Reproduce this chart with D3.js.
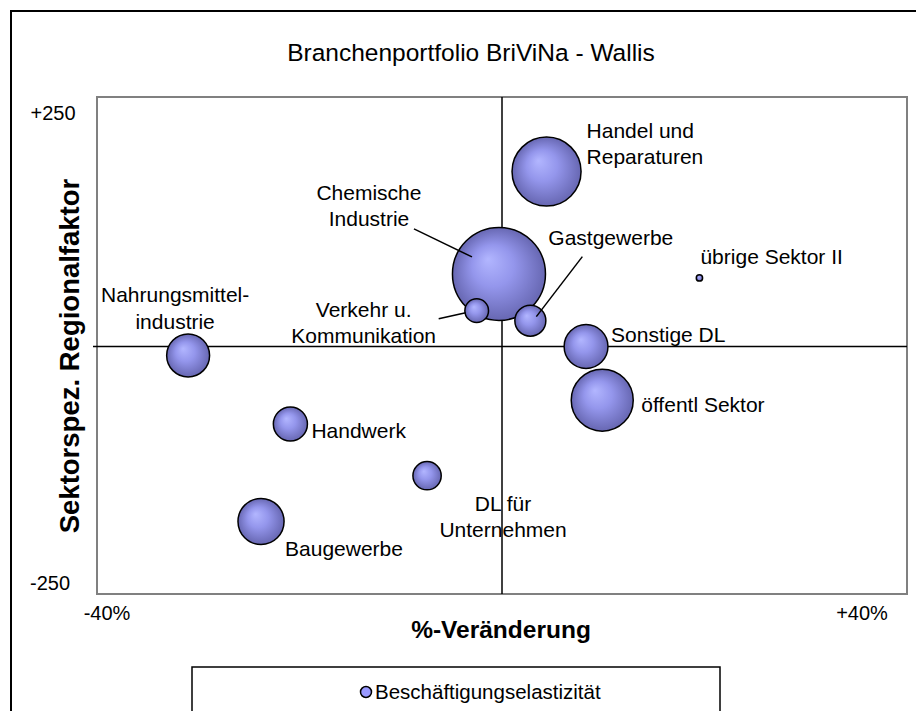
<!DOCTYPE html>
<html>
<head>
<meta charset="utf-8">
<script src="https://cdn.jsdelivr.net/npm/d3@7"></script>
<style>
  body { margin: 0; background: #fff; }
  text { font-family: "Liberation Sans", Arial, sans-serif; fill: #000; }
</style>
</head>
<body>
<div id="chart"></div>
<script>
// Chart data
var sectors = ["Handel und Reparaturen", "Chemische Industrie", "Verkehr u. Kommunikation", "Gastgewerbe",
               "übrige Sektor II", "Sonstige DL", "öffentl Sektor", "Nahrungsmittel-industrie",
               "Handwerk", "DL für Unternehmen", "Baugewerbe"];
var pctChange = [4.4, -0.3, -2.5, 2.8, 19.5, 8.3, 9.9, -31.0, -20.9, -7.4, -23.8];
var regionalFactor = [175, 72, 35, 25, 68, -1, -55, -10, -79, -131, -177];
var elasticity = [1.19, 2.16, 0.14, 0.24, 0.01, 0.48, 0.96, 0.46, 0.29, 0.20, 0.53];
var xTickLabels = ["-40%", "+40%"];
var yTickLabels = ["+250", "-250"];
var seriesName = "Beschäftigungselastizität";

var svgWidth = 916;
var svgHeight = 711;
var plot = { left: 97, top: 97, right: 907, bottom: 594 };

var svg = d3.select("#chart")
            .append("svg")
            .attr("width", svgWidth)
            .attr("height", svgHeight);

var defs = svg.append("defs");
var grad = defs.append("radialGradient")
               .attr("id", "bubbleFill")
               .attr("cx", "50%").attr("cy", "50%").attr("r", "50%")
               .attr("fx", "38%").attr("fy", "34%");
grad.append("stop").attr("offset", "0%").attr("stop-color", "#b2b6ff");
grad.append("stop").attr("offset", "45%").attr("stop-color", "#9496ec");
grad.append("stop").attr("offset", "100%").attr("stop-color", "#6767b2");

// outer chart border
svg.append("rect")
   .attr("x", 11).attr("y", 11)
   .attr("width", 930).attr("height", 730)
   .attr("fill", "none").attr("stroke", "#000").attr("stroke-width", 2);

var x = d3.scaleLinear().domain([-40, 40]).range([plot.left, plot.right]);
var y = d3.scaleLinear().domain([-250, 250]).range([plot.bottom, plot.top]);
var r = d3.scaleSqrt().domain([0, d3.max(elasticity)]).range([0, 46.5]);

// plot area
svg.append("rect")
   .attr("x", plot.left).attr("y", plot.top)
   .attr("width", plot.right - plot.left).attr("height", plot.bottom - plot.top)
   .attr("fill", "#fff").attr("stroke", "#808080").attr("stroke-width", 2);

// zero axes
svg.append("line")
   .attr("x1", x(0)).attr("x2", x(0))
   .attr("y1", y(250)).attr("y2", y(-250))
   .attr("stroke", "#000").attr("stroke-width", 1.5);
svg.append("line")
   .attr("x1", x(-40) - 4).attr("x2", x(40))
   .attr("y1", y(0) + 1).attr("y2", y(0) + 1)
   .attr("stroke", "#000").attr("stroke-width", 1.5);

// tick labels
svg.append("text").attr("x", 53).attr("y", y(250) + 23).attr("text-anchor", "middle")
   .attr("font-size", "20px").text(yTickLabels[0]);
svg.append("text").attr("x", 50).attr("y", y(-250) - 4).attr("text-anchor", "middle")
   .attr("font-size", "20px").text(yTickLabels[1]);
svg.append("text").attr("x", x(-40) + 10).attr("y", y(-250) + 26).attr("text-anchor", "middle")
   .attr("font-size", "20px").text(xTickLabels[0]);
svg.append("text").attr("x", x(40) - 45).attr("y", y(-250) + 26).attr("text-anchor", "middle")
   .attr("font-size", "20px").text(xTickLabels[1]);

// titles
svg.append("text").attr("x", 471).attr("y", 61).attr("text-anchor", "middle")
   .attr("font-size", "24.5px").text("Branchenportfolio BriViNa - Wallis");
svg.append("text").attr("x", 501).attr("y", 638).attr("text-anchor", "middle")
   .attr("font-size", "24.5px").attr("font-weight", "bold").text("%-Veränderung");
svg.append("text")
   .attr("transform", "translate(79, 356) rotate(-90)")
   .attr("text-anchor", "middle")
   .attr("font-size", "27.5px").attr("font-weight", "bold")
   .text("Sektorspez. Regionalfaktor");

var data = sectors.map(function(name, i) {
    return { name: name, x: pctChange[i], y: regionalFactor[i], size: elasticity[i] };
});

// bubbles, biggest first so small ones stay on top
var bubbles = svg.append("g");
bubbles.selectAll("circle")
       .data(data.slice().sort(function(a, b) { return b.size - a.size; }))
       .enter()
       .append("circle")
       .attr("cx", d => x(d.x))
       .attr("cy", d => y(d.y))
       .attr("r", d => r(d.size))
       .attr("fill", "url(#bubbleFill)")
       .attr("stroke", "#000")
       .attr("stroke-width", 1.5);

// label layout: offset from bubble centre, lines, anchor, optional leader line
var labelLayout = {
    "Handel und Reparaturen": { dx: 40, dy: -34, lines: ["Handel und", "Reparaturen"], anchor: "start" },
    "Chemische Industrie": { dx: -130, dy: -74, lines: ["Chemische", "Industrie"], anchor: "middle", leader: [-85, -45, -27, -17] },
    "Verkehr u. Kommunikation": { dx: -113, dy: 6, lines: ["Verkehr u.", "Kommunikation"], anchor: "middle", leader: [-38, 8, -11, 2] },
    "Gastgewerbe": { dx: 18, dy: -76, lines: ["Gastgewerbe"], anchor: "start", leader: [52, -64, 6, -4] },
    "übrige Sektor II": { dx: 1, dy: -14, lines: ["übrige Sektor II"], anchor: "start" },
    "Sonstige DL": { dx: 25, dy: -4, lines: ["Sonstige DL"], anchor: "start" },
    "öffentl Sektor": { dx: 39, dy: 12, lines: ["öffentl Sektor"], anchor: "start" },
    "Nahrungsmittel-industrie": { dx: -13, dy: -53, lines: ["Nahrungsmittel-", "industrie"], anchor: "middle" },
    "Handwerk": { dx: 21, dy: 14, lines: ["Handwerk"], anchor: "start" },
    "DL für Unternehmen": { dx: 76, dy: 35, lines: ["DL für", "Unternehmen"], anchor: "middle" },
    "Baugewerbe": { dx: 24, dy: 35, lines: ["Baugewerbe"], anchor: "start" }
};

var labels = svg.append("g");
data.forEach(function(d) {
    var lay = labelLayout[d.name];
    var cx = x(d.x), cy = y(d.y);
    if (lay.leader) {
        labels.append("line")
              .attr("x1", cx + lay.leader[0]).attr("y1", cy + lay.leader[1])
              .attr("x2", cx + lay.leader[2]).attr("y2", cy + lay.leader[3])
              .attr("stroke", "#000").attr("stroke-width", 1.5);
    }
    var t = labels.append("text")
                  .attr("x", cx + lay.dx).attr("y", cy + lay.dy)
                  .attr("text-anchor", lay.anchor)
                  .attr("font-size", "21px");
    lay.lines.forEach(function(line, i) {
        t.append("tspan").attr("x", cx + lay.dx).attr("dy", i === 0 ? 0 : 26.5).text(line);
    });
});

// legend
var legend = svg.append("g");
legend.append("rect")
      .attr("x", 192).attr("y", 667)
      .attr("width", 528).attr("height", 60)
      .attr("fill", "#fff").attr("stroke", "#000").attr("stroke-width", 1.5);
legend.append("circle")
      .attr("cx", 366).attr("cy", 692).attr("r", 5.5)
      .attr("fill", "#9999ff").attr("stroke", "#000").attr("stroke-width", 1.5);
legend.append("text")
      .attr("x", 375).attr("y", 699)
      .attr("font-size", "20.5px").text(seriesName);
</script>
</body>
</html>
